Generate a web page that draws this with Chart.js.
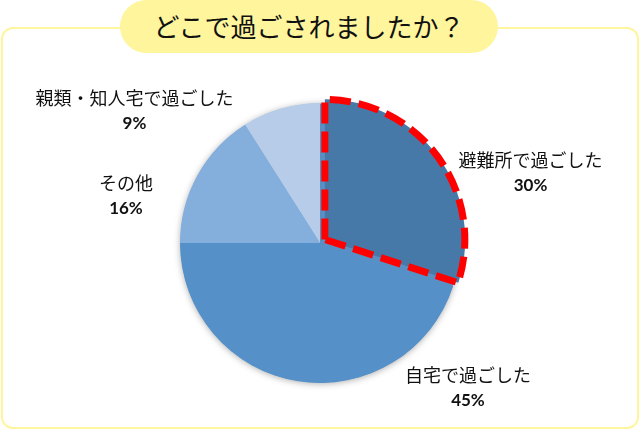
<!DOCTYPE html>
<html>
<head>
<meta charset="utf-8">
<script src="https://cdn.jsdelivr.net/npm/chart.js@4/dist/chart.umd.min.js"></script>
<style>
  html, body { margin:0; padding:0; background:#fff; }
  #wrap { position:relative; width:640px; height:430px; overflow:hidden; }
  #frame { position:absolute; left:1px; top:27px; width:634px; height:398px;
           border:2px solid #FFF59D; border-radius:12px; box-sizing:content-box; }
  #title { position:absolute; left:120px; top:0; width:378px; height:53px;
           background:#FFF59D; border-radius:27px; text-align:center;
           font-family:"Noto Sans CJK JP", sans-serif; font-size:26px; line-height:51px; color:#111; }
  #c { position:absolute; left:0; top:0; }
</style>
</head>
<body>
<div id="wrap">
  <div id="frame"></div>
  <div id="title">どこで過ごされましたか？</div>
  <canvas id="c" width="640" height="430"></canvas>
</div>
<script>
const categories = ['避難所で過ごした', '自宅で過ごした', 'その他', '親類・知人宅で過ごした'];
const values = [30, 45, 16, 9];
const percentLabels = ['30%', '45%', '16%', '9%'];
const sliceColors = ['#4779A8', '#5591C8', '#84AEDB', '#B6CCE8'];

// label block centres, as multiples of the outer radius from the pie centre
const labelLayout = [
  {fx: 1.504, fy: -0.504},
  {fx: 1.057, fy: 1.029},
  {fx: -1.386, fy: -0.339},
  {fx: -1.325, fy: -0.946}
];

const shadowPlugin = {
  id: 'pieShadow',
  beforeDatasetsDraw(chart) {
    const arc = chart.getDatasetMeta(0).data[1];
    if (!arc) return;
    const {x, y, outerRadius} = arc.getProps(['x', 'y', 'outerRadius'], true);
    const ctx = chart.ctx;
    ctx.save();
    ctx.shadowColor = 'rgba(0,0,0,0.35)';
    ctx.shadowBlur = 7;
    ctx.shadowOffsetX = 0;
    ctx.shadowOffsetY = 1;
    ctx.fillStyle = '#5A8FC4';
    ctx.beginPath();
    ctx.arc(x, y, outerRadius - 0.5, 0, Math.PI * 2);
    ctx.fill();
    ctx.restore();
  }
};

const highlightPlugin = {
  id: 'highlight',
  afterDatasetsDraw(chart) {
    const arc = chart.getDatasetMeta(0).data[0];
    if (!arc) return;
    const p = arc.getProps(['x', 'y', 'startAngle', 'endAngle', 'outerRadius'], true);
    const off = (arc.options.offset || 0) / 4;
    const half = (p.startAngle + p.endAngle) / 2;
    const ctx = chart.ctx;
    ctx.save();
    ctx.translate(Math.cos(half) * off, Math.sin(half) * off);
    ctx.strokeStyle = '#FF0000';
    ctx.lineWidth = 7;
    ctx.setLineDash([21, 8]);
    ctx.lineJoin = 'miter';
    ctx.beginPath();
    ctx.moveTo(p.x, p.y);
    ctx.arc(p.x, p.y, p.outerRadius, p.startAngle, p.endAngle);
    ctx.closePath();
    ctx.stroke();
    ctx.restore();
  }
};

const labelPlugin = {
  id: 'sliceLabels',
  afterDraw(chart) {
    const meta = chart.getDatasetMeta(0);
    const ref = meta.data[1];
    const {x, y, outerRadius} = ref.getProps(['x', 'y', 'outerRadius'], true);
    const ctx = chart.ctx;
    ctx.save();
    ctx.textAlign = 'center';
    ctx.textBaseline = 'middle';
    ctx.fillStyle = '#111';
    categories.forEach((name, i) => {
      const lx = x + labelLayout[i].fx * outerRadius;
      const ly = y + labelLayout[i].fy * outerRadius;
      ctx.font = '18px "Noto Sans CJK JP", sans-serif';
      ctx.fillText(name, lx, ly - 12);
      ctx.font = 'bold 17px Lato, "Noto Sans", sans-serif';
      ctx.fillText(percentLabels[i], lx, ly + 13);
    });
    ctx.restore();
  }
};

new Chart(document.getElementById('c'), {
  type: 'pie',
  data: {
    labels: categories,
    datasets: [{
      data: values,
      backgroundColor: sliceColors,
      borderWidth: 0,
      offset: [24, 0, 0, 0],
      hoverOffset: 0
    }]
  },
  options: {
    responsive: false,
    animation: false,
    events: [],
    radius: 140,
    layout: { padding: { top: 58, bottom: 2, left: 0, right: 0 } },
    plugins: {
      legend: { display: false },
      tooltip: { enabled: false },
      title: { display: false }
    }
  },
  plugins: [shadowPlugin, highlightPlugin, labelPlugin]
});
</script>
</body>
</html>
